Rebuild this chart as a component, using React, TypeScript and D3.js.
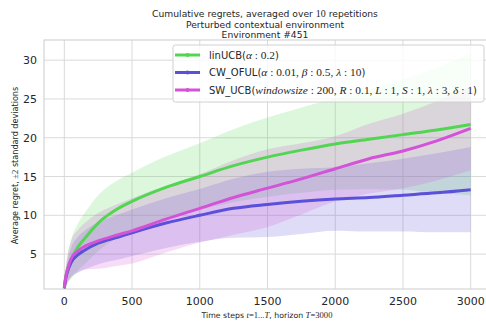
import * as d3 from "d3";
import React from "react";

const steps = [0, 10, 25, 50, 100, 150, 250, 400, 500, 750, 1000, 1250, 1500, 1750, 2000, 2250, 2500, 2750, 3000];

const linUCBMean = [0.6, 2.0, 3.2, 4.3, 5.9, 7.0, 9.0, 10.9, 11.8, 13.6, 15.0, 16.4, 17.5, 18.4, 19.2, 19.8, 20.4, 21.0, 21.7];
const linUCBDev = [0.3, 1.0, 1.8, 2.5, 3.0, 3.3, 3.6, 3.7, 3.7, 4.0, 4.3, 4.7, 5.1, 5.5, 5.9, 6.4, 7.1, 8.1, 9.1];

const cwOfulMean = [0.6, 1.8, 2.8, 3.9, 4.9, 5.5, 6.4, 7.2, 7.75, 9.0, 10.0, 10.9, 11.4, 11.8, 12.1, 12.3, 12.6, 12.9, 13.3];
const cwOfulDev = [0.3, 0.9, 1.4, 1.9, 2.3, 2.5, 2.7, 2.9, 3.0, 3.2, 3.4, 3.8, 4.2, 4.2, 4.1, 4.4, 4.7, 5.1, 5.5];

const swUCBMean = [0.6, 2.0, 3.1, 4.4, 5.4, 6.0, 6.7, 7.5, 8.0, 9.5, 10.9, 12.3, 13.5, 14.7, 16.0, 17.3, 18.3, 19.6, 21.2];
const swUCBDev = [0.3, 1.2, 1.8, 2.3, 2.7, 3.0, 3.6, 4.0, 4.2, 4.3, 4.4, 4.8, 5.0, 4.6, 4.2, 4.5, 4.8, 5.1, 5.4];

const xTicks = [0, 500, 1000, 1500, 2000, 2500, 3000];
const yTicks = [5, 10, 15, 20, 25, 30];

const SANS = "DejaVu Sans";
const SERIF = "Liberation Serif";

const series = [
  { key: "lin", color: "#52d652", mean: linUCBMean, dev: linUCBDev },
  { key: "cw", color: "#5b50d8", mean: cwOfulMean, dev: cwOfulDev },
  { key: "sw", color: "#d352d8", mean: swUCBMean, dev: swUCBDev },
];

// math bits in serif, like matplotlib's cm mathtext
const mk = (size: number) => {
  const M = (s: string) => (
    <tspan fontFamily={SERIF} fontStyle="italic" fontSize={size}>{s}</tspan>
  );
  const N = (s: string) => (
    <tspan fontFamily={SERIF} fontSize={size}>{s}</tspan>
  );
  return { M, N };
};
const L = mk(11.4);
const A = mk(8.6);
const T = mk(10);

const legendLabels = [
  <>linUCB({L.M("α")}{L.N(" : 0.2")})</>,
  <>CW_OFUL({L.M("α")}{L.N(" : 0.01, ")}{L.M("β")}{L.N(" : 0.5, ")}{L.M("λ")}{L.N(" : 10")})</>,
  <>SW_UCB({L.M("windowsize")}{L.N(" : 200, ")}{L.M("R")}{L.N(" : 0.1, ")}{L.M("L")}{L.N(" : 1, ")}{L.M("S")}{L.N(" : 1, ")}{L.M("λ")}{L.N(" : 3, ")}{L.M("δ")}{L.N(" : 1")})</>,
];

export default function App() {
  const W = 486;
  const H = 322;
  const left = 44, right = 491, top = 40, bottom = 289;

  const x = d3.scaleLinear().domain([-150, 3150]).range([left, right]);
  const y = d3.scaleLinear().domain([0.5, 32.6]).range([bottom, top]);

  const line = (m: number[]) =>
    d3.line<number>().curve(d3.curveMonotoneX).x((_, i) => x(steps[i])).y((v) => y(v))(m) || "";
  const band = (m: number[], s: number[]) =>
    d3
      .area<number>()
      .curve(d3.curveMonotoneX)
      .x((_, i) => x(steps[i]))
      .y0((v, i) => y(v - s[i]))
      .y1((v, i) => y(v + s[i]))(m) || "";

  const grid = "#dadada";
  const txt = "#262626";

  return (
    <svg width={W} height={H} style={{ position: "absolute", left: 0, top: 0, background: "#fff" }} fontFamily={SANS}>
      <defs>
        <clipPath id="plot">
          <rect x={left} y={top} width={right - left} height={bottom - top} />
        </clipPath>
      </defs>

      {/* grid */}
      {xTicks.map((t) => (
        <line key={"gx" + t} x1={x(t)} x2={x(t)} y1={top} y2={bottom} stroke={grid} strokeWidth={1} />
      ))}
      {yTicks.map((t) => (
        <line key={"gy" + t} x1={left} x2={right} y1={y(t)} y2={y(t)} stroke={grid} strokeWidth={1} />
      ))}

      {/* spines */}
      <rect x={left} y={top} width={right - left} height={bottom - top} fill="none" stroke="#cccccc" strokeWidth={1} />

      <g clipPath="url(#plot)">
        {series.map((s) => (
          <path key={"b" + s.key} d={band(s.mean, s.dev)} fill={s.color} fillOpacity={0.2} stroke="none" />
        ))}
        {series.map((s) => (
          <path key={"l" + s.key} d={line(s.mean)} fill="none" stroke={s.color} strokeWidth={3} strokeLinejoin="round" />
        ))}
      </g>

      {/* tick labels */}
      {xTicks.map((t) => (
        <text key={"tx" + t} x={x(t)} y={305} textAnchor="middle" fontSize={11} fill={txt}>
          {t}
        </text>
      ))}
      {yTicks.map((t) => (
        <text key={"ty" + t} x={37} y={y(t) + 4} textAnchor="end" fontSize={11} fill={txt}>
          {t}
        </text>
      ))}

      {/* axis labels */}
      <text x={267} y={318} textAnchor="middle" fontSize={7.8} fill={txt}>
        Time steps {A.M("t")}{A.N("=1...")}{A.M("T")}, horizon {A.M("T")}{A.N("=3000")}
      </text>
      <text transform={`translate(18,${(top + bottom) / 2 + 1}) rotate(-90)`} textAnchor="middle" fontSize={8.1} fill={txt}>
        Average regret, {A.N("±2")} standard deviations
      </text>

      {/* title */}
      <g fontSize={9.2} fill={txt} textAnchor="middle">
        <text x={265} y={17}>Cumulative regrets, averaged over {T.N("10")} repetitions</text>
        <text x={265} y={27.5}>Perturbed contextual environment</text>
        <text x={265} y={38}>Environment #451</text>
      </g>

      {/* legend */}
      <g>
        <rect x={173} y={45} width={311} height={57} rx={2.5} fill="#ffffff" fillOpacity={0.8} stroke="#d0d0d0" strokeWidth={1} />
        {series.map((s, i) => (
          <g key={"lg" + s.key}>
            <line x1={175} x2={200} y1={55 + i * 17.5} y2={55 + i * 17.5} stroke={s.color} strokeWidth={3} />
            <circle cx={187.5} cy={55 + i * 17.5} r={2} fill={s.color} />
            <text x={209} y={55 + i * 17.5 + 3.5} fontSize={10} fill={txt}>
              {legendLabels[i]}
            </text>
          </g>
        ))}
      </g>
    </svg>
  );
}
